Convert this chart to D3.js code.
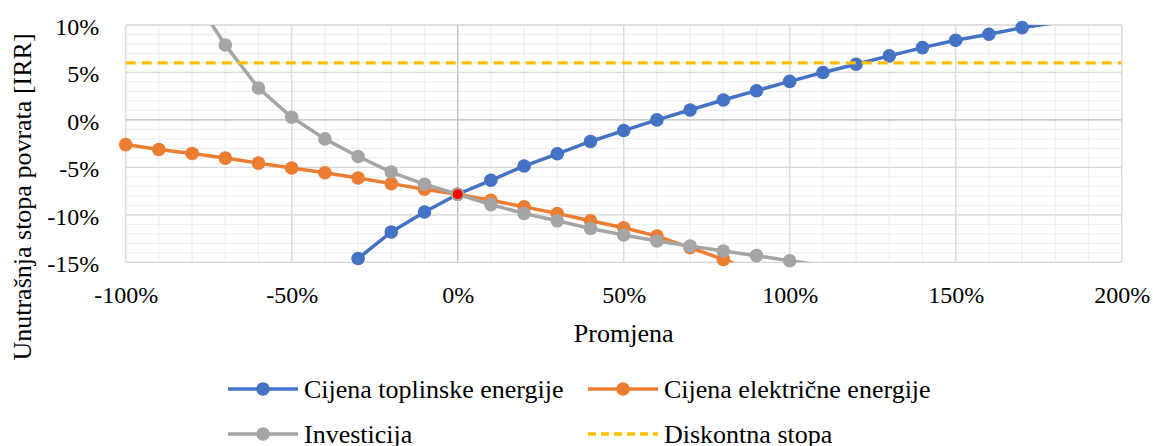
<!DOCTYPE html>
<html>
<head>
<meta charset="utf-8">
<script src="https://cdn.jsdelivr.net/npm/d3@7"></script>
<style>
  body { margin: 0; background: #fff; overflow: hidden; }
</style>
</head>
<body>
<svg id="chart"></svg>
<script>
// changes in % (null = no point)
const changes = d3.range(-100, 201, 10);

const toplinska = [null, null, null, null, null, -22.6, -18.2, -14.6, -11.8, -9.7,
  -7.83, -6.36, -4.86, -3.57, -2.27, -1.12, 0.0, 1.05, 2.1, 3.08,
  4.06, 5.0, 5.87, 6.75, 7.62, 8.39, 9.02, 9.72, 10.25, 10.8, 11.35];
const elektricna = [-2.6, -3.11, -3.53, -4.02, -4.55, -5.07, -5.56, -6.12, -6.71, -7.31,
  -7.83, -8.46, -9.16, -9.86, -10.63, -11.36, -12.24, -13.46, -14.69, -16.0,
  -17.4, null, null, null, null, null, null, null, null, null, null];
const investicija = [null, null, 13.2, 7.9, 3.36, 0.28, -2.0, -3.85, -5.49, -6.78,
  -7.83, -8.92, -9.86, -10.63, -11.43, -12.13, -12.76, -13.29, -13.81, -14.3,
  -14.83, -15.35, -15.85, null, null, null, null, null, null, null, null];
const diskontna = changes.map(() => 6);

const xTicks = [-100, -50, 0, 50, 100, 150, 200];
const yTicks = [-15, -10, -5, 0, 5, 10];

const series = [
  {name: 'Cijena toplinske energije', values: toplinska, color: '#4472C4', marker: true},
  {name: 'Cijena električne energije', values: elektricna, color: '#ED7D31', marker: true},
  {name: 'Investicija', values: investicija, color: '#A5A5A5', marker: true},
  {name: 'Diskontna stopa', values: diskontna, color: '#FFC000', marker: false, dash: '10,6'}
];

const FONT = '"Liberation Serif", "Times New Roman", serif';
const width = 1153, height = 446;
const margin = {top: 25, right: 31.3, bottom: 183.7, left: 125.7};
const innerWidth = width - margin.left - margin.right;
const innerHeight = height - margin.top - margin.bottom;

const svg = d3.select('#chart').attr('width', width).attr('height', height);

const x = d3.scaleLinear().domain([-100, 200]).range([0, innerWidth]);
const y = d3.scaleLinear().domain([-15, 10]).range([innerHeight, 0]);

const g = svg.append('g').attr('transform', `translate(${margin.left},${margin.top})`);

g.append('clipPath').attr('id', 'plot')
  .append('rect').attr('width', innerWidth).attr('height', innerHeight);

// minor grid
g.selectAll('.vminor').data(d3.range(-100, 201, 10)).enter().append('line')
  .attr('x1', d => x(d)).attr('x2', d => x(d)).attr('y1', 0).attr('y2', innerHeight)
  .attr('stroke', '#EFEFEF').attr('stroke-width', 1.3);
g.selectAll('.hminor').data(d3.range(-15, 11, 1)).enter().append('line')
  .attr('y1', d => y(d)).attr('y2', d => y(d)).attr('x1', 0).attr('x2', innerWidth)
  .attr('stroke', '#EFEFEF').attr('stroke-width', 1.3);

// major grid
g.selectAll('.vmajor').data(xTicks).enter().append('line')
  .attr('x1', d => x(d)).attr('x2', d => x(d)).attr('y1', 0).attr('y2', innerHeight)
  .attr('stroke', d => d === 0 ? '#BFBFBF' : '#D9D9D9').attr('stroke-width', 1.3);
g.selectAll('.hmajor').data(yTicks).enter().append('line')
  .attr('y1', d => y(d)).attr('y2', d => y(d)).attr('x1', 0).attr('x2', innerWidth)
  .attr('stroke', d => d === 0 ? '#BFBFBF' : '#D9D9D9').attr('stroke-width', 1.3);

// axes (labels only)
const xAxis = g.append('g').attr('transform', `translate(0,${innerHeight})`)
  .call(d3.axisBottom(x).tickValues(xTicks).tickSize(0).tickFormat(d => d + '%'));
xAxis.select('.domain').remove();
xAxis.selectAll('text').attr('y', 41).attr('dy', 0)
  .style('font-family', FONT).style('font-size', '24px').attr('fill', '#000');

const yAxis = g.append('g')
  .call(d3.axisLeft(y).tickValues(yTicks).tickSize(0).tickFormat(d => d + '%'));
yAxis.select('.domain').remove();
yAxis.selectAll('text').attr('x', -26.5).attr('dy', 9.3)
  .style('font-family', FONT).style('font-size', '24px').attr('fill', '#000');

// axis titles
svg.append('text')
  .attr('x', margin.left + innerWidth / 2).attr('y', 341.7)
  .attr('text-anchor', 'middle').style('font-family', FONT).style('font-size', '26px')
  .text('Promjena');
svg.append('text')
  .attr('transform', 'translate(31,197) rotate(-90)')
  .attr('text-anchor', 'middle').style('font-family', FONT).style('font-size', '26px')
  .text('Unutrašnja stopa povrata [IRR]');

// series
const line = d3.line()
  .defined(d => d.v !== null)
  .x(d => x(d.c)).y(d => y(d.v));

const plot = g.append('g');
series.forEach(s => {
  const pts = changes.map((c, i) => ({c: c, v: s.values[i]}));
  plot.append('path').datum(pts)
    .attr('clip-path', 'url(#plot)')
    .attr('fill', 'none').attr('stroke', s.color)
    .attr('stroke-width', s.marker ? 3.5 : 3.3)
    .attr('stroke-dasharray', s.dash || null)
    .attr('d', line);
  if (s.marker) {
    plot.selectAll(null)
      .data(pts.filter(d => d.v !== null && d.v >= -15 && d.v <= 10))
      .enter().append('circle')
      .attr('cx', d => x(d.c)).attr('cy', d => y(d.v)).attr('r', 6.8)
      .attr('fill', s.color);
  }
});

// base case point
plot.append('circle')
  .attr('cx', x(0)).attr('cy', y(investicija[changes.indexOf(0)]))
  .attr('r', 5.8).attr('fill', '#FF0000')
  .attr('stroke', '#A5A5A5').attr('stroke-width', 1.5);

// legend
const legendPos = [[228, 389], [588, 389], [228, 434], [588, 434]];
series.forEach((s, i) => {
  const [lx, ly] = legendPos[i];
  const item = svg.append('g').attr('transform', `translate(${lx},${ly})`);
  item.append('line').attr('x1', 0).attr('x2', 70).attr('y1', 0).attr('y2', 0)
    .attr('stroke', s.color).attr('stroke-width', 3.5)
    .attr('stroke-dasharray', s.dash ? '8,5' : null);
  if (s.marker) {
    item.append('circle').attr('cx', 35).attr('cy', 0).attr('r', 6.8).attr('fill', s.color);
  }
  item.append('text').attr('x', 76).attr('y', 9)
    .style('font-family', FONT).style('font-size', '26px').text(s.name);
});
</script>
</body>
</html>
